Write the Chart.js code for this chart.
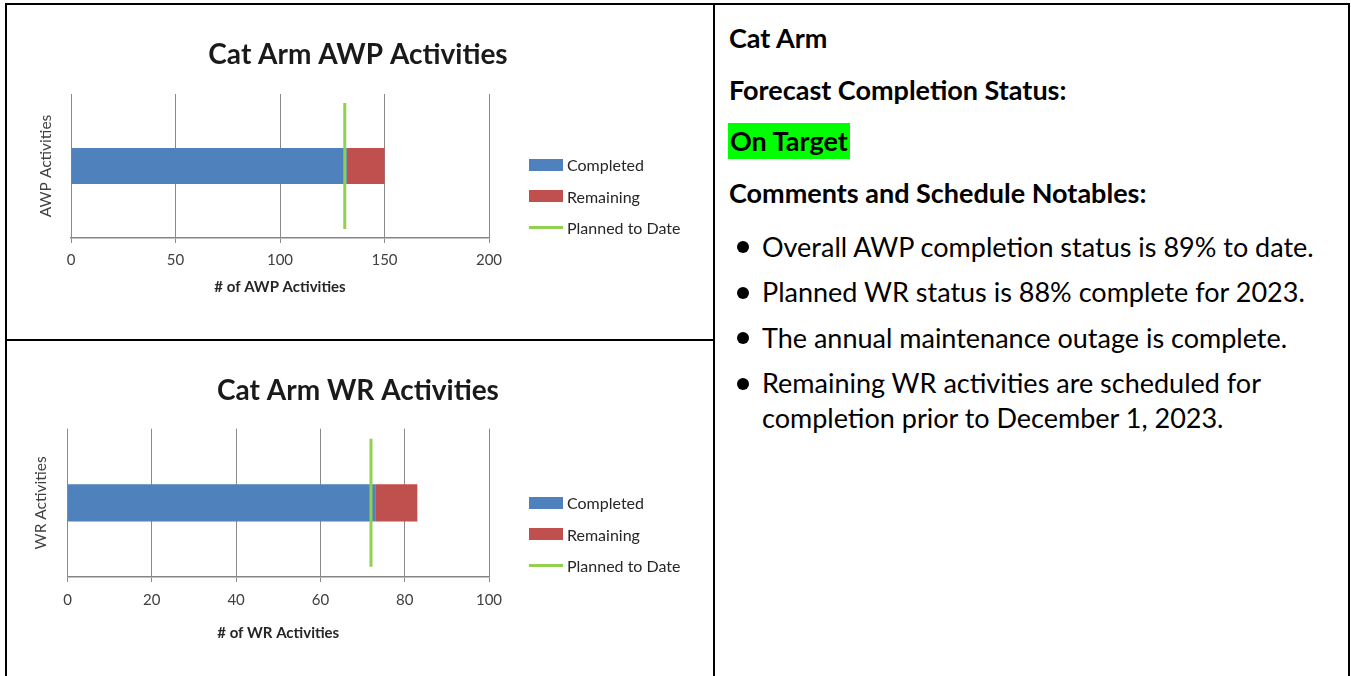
<!DOCTYPE html>
<html>
<head>
<meta charset="utf-8">
<title>Cat Arm</title>
<script src="https://cdn.jsdelivr.net/npm/chart.js@4.4.1/dist/chart.umd.min.js"></script>
<style>
    body {
        margin: 0;
        background: #fff;
        font-family: Lato, "Open Sans", sans-serif;
        overflow: hidden;
    }

    .frame,
    .col-line,
    .row-line,
    .chart-box,
    .legend,
    .notes {
        position: absolute;
    }

    .frame {
        left: 5px;
        top: 3px;
        width: 1345px;
        height: 720px;
        border: 2px solid #000;
        box-sizing: border-box;
    }

    .col-line {
        left: 713px;
        top: 3px;
        width: 2px;
        height: 700px;
        background: #000;
    }

    .row-line {
        left: 5px;
        top: 339px;
        width: 710px;
        height: 2px;
        background: #000;
    }

    #awp-box {
        left: 7px;
        top: 5px;
        width: 706px;
        height: 334px;
    }

    #wr-box {
        left: 7px;
        top: 341px;
        width: 706px;
        height: 335px;
    }

    /* html legend, filled in by the htmlLegend plugin */
    .legend {
        left: 529px;
        margin: 0;
        padding: 0;
        list-style: none;
        font-size: 16px;
        color: #262626;
    }

    #awp-legend {
        top: 149px;
    }

    #wr-legend {
        top: 487px;
    }

    .legend li {
        display: flex;
        align-items: center;
        height: 31.5px;
        white-space: nowrap;
    }

    .swatch {
        display: inline-block;
        width: 34px;
        height: 12px;
        margin-right: 4px;
    }

    .swatch.line {
        height: 3px;
    }

    .notes {
        left: 729px;
        top: 20px;
        font-size: 27px;
        line-height: 35px;
        color: #000;
    }

    .notes p {
        margin: 0 0 16.7px;
        font-weight: bold;
        white-space: nowrap;
    }

    .notes p.status {
        width: fit-content;
        line-height: 36px;
        margin: -0.5px 0 16.2px -1px;
        padding: 0 2px;
        background: #00ff00;
    }

    .notes p.last {
        margin-bottom: 18.9px;
    }

    .notes ul {
        margin: 0;
        padding: 0;
        list-style: none;
    }

    .notes li {
        position: relative;
        padding-left: 33px;
        margin-bottom: 10.5px;
        white-space: nowrap;
    }

    .notes li::before {
        content: "";
        position: absolute;
        left: 8.3px;
        top: 12.5px;
        width: 12px;
        height: 12px;
        border-radius: 50%;
        background: #000;
    }
</style>
</head>
<body>
<div class="frame"></div>
<div class="col-line"></div>
<div class="row-line"></div>

<div class="chart-box" id="awp-box"><canvas id="awp-chart"></canvas></div>
<ul class="legend" id="awp-legend"></ul>

<div class="chart-box" id="wr-box"><canvas id="wr-chart"></canvas></div>
<ul class="legend" id="wr-legend"></ul>

<div class="notes">
    <p>Cat Arm</p>
    <p>Forecast Completion Status:</p>
    <p class="status">On Target</p>
    <p class="last">Comments and Schedule Notables:</p>
    <ul>
        <li>Overall AWP completion status is 89% to date.</li>
        <li>Planned WR status is 88% complete for 2023.</li>
        <li>The annual maintenance outage is complete.</li>
        <li>Remaining WR activities are scheduled for<br>completion prior to December 1, 2023.</li>
    </ul>
</div>

<script>
//values
const seriesNames = ["Completed", "Remaining", "Planned to Date"];

const awpLabels = ["AWP Activities"];
const awpCompleted = [132];
const awpRemaining = [18];
const awpPlanned = [131];
const awpTicks = [0, 50, 100, 150, 200];

const wrLabels = ["WR Activities"];
const wrCompleted = [73];
const wrRemaining = [10];
const wrPlanned = [72];
const wrTicks = [0, 20, 40, 60, 80, 100];

const blue = '#4f81bd';
const red = '#c0504d';
const green = '#92d050';

Chart.defaults.font.family = 'Lato, "Open Sans", sans-serif';

//build the legend as html so it can sit where the original one is
const htmlLegend = {
    id: 'htmlLegend',
    afterUpdate(chart, args, options) {
        const ul = document.getElementById(options.containerID);
        ul.innerHTML = '';
        chart.data.datasets.forEach(ds => {
            const li = document.createElement('li');
            const swatch = document.createElement('span');
            const isLine = ds.type === 'line';
            swatch.className = isLine ? 'swatch line' : 'swatch';
            swatch.style.background = isLine ? ds.pointBorderColor : ds.backgroundColor;
            li.appendChild(swatch);
            li.appendChild(document.createTextNode(ds.label));
            ul.appendChild(li);
        });
    }
};

const makeChart = (canvasId, legendId, cfg) => new Chart(document.getElementById(canvasId), {
    type: 'bar',
    data: {
        labels: cfg.labels,
        datasets: [{
            label: seriesNames[0],
            data: cfg.completed,
            backgroundColor: blue,
            barPercentage: .25,
            categoryPercentage: 1,
            order: 2
        }, {
            label: seriesNames[1],
            data: cfg.remaining,
            backgroundColor: red,
            barPercentage: .25,
            categoryPercentage: 1,
            order: 2
        }, {
            //planned to date is one point drawn as a tall vertical dash
            type: 'line',
            label: seriesNames[2],
            data: cfg.planned,
            showLine: false,
            borderColor: green,
            pointStyle: 'line',
            pointRotation: 90,
            pointRadius: cfg.dashRadius,
            pointHoverRadius: cfg.dashRadius,
            pointBorderColor: green,
            pointBorderWidth: 3,
            order: 1
        }]
    },
    options: {
        indexAxis: 'y',
        responsive: true,
        maintainAspectRatio: false,
        animation: false,
        events: [],
        layout: {
            //the big dash radius would otherwise be added as padding
            autoPadding: false,
            padding: cfg.padding
        },
        scales: {
            x: {
                type: 'linear',
                stacked: true,
                min: cfg.ticks[0],
                max: cfg.ticks[cfg.ticks.length - 1],
                grid: {
                    color: '#8a8a8a',
                    tickLength: 5
                },
                border: {
                    color: '#868686',
                    width: 1.5
                },
                ticks: {
                    stepSize: cfg.ticks[1] - cfg.ticks[0],
                    color: '#404040',
                    padding: cfg.tickPad,
                    font: { size: 15 }
                },
                title: {
                    display: true,
                    text: cfg.xTitle,
                    color: '#262626',
                    font: { size: 15, weight: 'bold' },
                    padding: { top: cfg.xTitlePad, bottom: 4 }
                }
            },
            y: {
                type: 'category',
                stacked: true,
                offset: true,
                grid: { display: false, drawTicks: false },
                border: { display: false },
                ticks: { display: false },
                title: {
                    display: true,
                    text: cfg.yTitle,
                    color: '#404040',
                    font: { size: 15.5 },
                    padding: { top: 4, bottom: cfg.yTitlePad }
                }
            },
            //empty axis on the right that keeps room for the html legend
            spacer: {
                type: 'linear',
                position: 'right',
                grid: { display: false, drawTicks: false },
                border: { display: false },
                ticks: { display: false },
                afterFit: axis => {
                    axis.width = cfg.legendRoom;
                }
            }
        },
        plugins: {
            legend: { display: false },
            tooltip: { enabled: false },
            htmlLegend: { containerID: legendId },
            title: {
                display: true,
                text: cfg.title,
                color: '#1a1a1a',
                font: { size: 28, weight: 'bold' },
                padding: { top: 33.2, bottom: cfg.titleGap }
            }
        }
    },
    plugins: [htmlLegend]
});

let awpChart = makeChart('awp-chart', 'awp-legend', {
    labels: awpLabels,
    completed: awpCompleted,
    remaining: awpRemaining,
    planned: awpPlanned,
    ticks: awpTicks,
    title: 'Cat Arm AWP Activities',
    xTitle: '# of AWP Activities',
    yTitle: 'AWP Activities',
    padding: { left: 25.3, right: 29.3, top: 0, bottom: 39 },
    legendRoom: 194.7,
    titleGap: 22.2,
    tickPad: 8,
    xTitlePad: 1,
    yTitlePad: 16.1,
    dashRadius: 63
});

let wrChart = makeChart('wr-chart', 'wr-legend', {
    labels: wrLabels,
    completed: wrCompleted,
    remaining: wrRemaining,
    planned: wrPlanned,
    ticks: wrTicks,
    title: 'Cat Arm WR Activities',
    xTitle: '# of WR Activities',
    yTitle: 'WR Activities',
    padding: { left: 20.7, right: 24.7, top: 0, bottom: 30 },
    legendRoom: 199.3,
    titleGap: 20.9,
    tickPad: 8.7,
    xTitlePad: 6.6,
    yTitlePad: 17.2,
    dashRadius: 64
});
</script>
</body>
</html>
